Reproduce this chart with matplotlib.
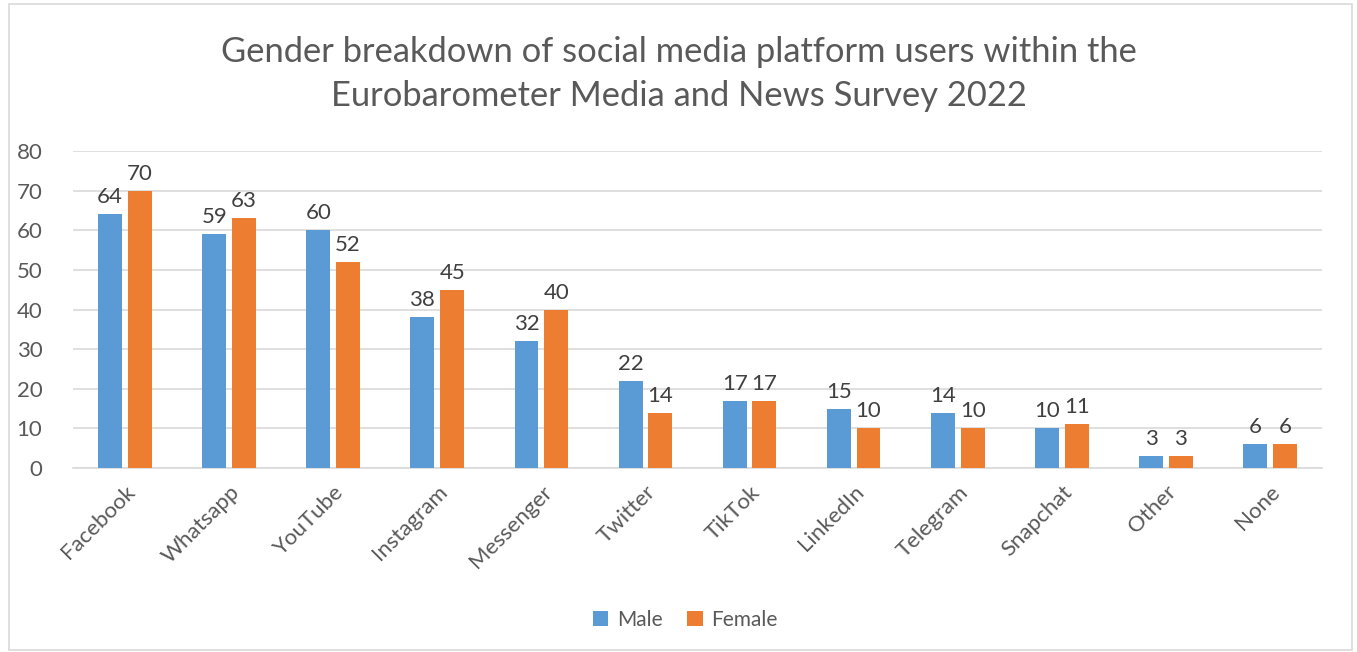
import numpy as np
import matplotlib.pyplot as plt
from matplotlib.patches import Rectangle

# values
platforms = ['Facebook', 'Whatsapp', 'YouTube', 'Instagram', 'Messenger', 'Twitter',
             'TikTok', 'LinkedIn', 'Telegram', 'Snapchat', 'Other', 'None']
male = [64, 59, 60, 38, 32, 22, 17, 15, 14, 10, 3, 6]
female = [70, 63, 52, 45, 40, 14, 17, 10, 10, 11, 3, 6]

blue = '#5B9BD5'
orange = '#ED7D31'
grey_text = '#595959'
grid_col = '#D9D9D9'

plt.rcParams['font.family'] = ['Lato', 'DejaVu Sans']

fig = plt.figure(figsize=(13.57, 6.52), dpi=100)
ax = fig.add_axes([73 / 1357, 1 - 468 / 652, (1322 - 73) / 1357, (468 - 151) / 652])

# chart border
fig.patches.append(Rectangle((9 / 1357, 2 / 652), 1343 / 1357, 646 / 652,
                             transform=fig.transFigure, fill=False,
                             edgecolor=grid_col, linewidth=1.2))

x = np.arange(len(platforms))
w = 0.23
off = 0.143
b1 = ax.bar(x - off, male, w, color=blue, label='Male', zorder=3)
b2 = ax.bar(x + off, female, w, color=orange, label='Female', zorder=3)

ax.bar_label(b1, padding=5, fontsize=16, color='#404040')
ax.bar_label(b2, padding=5, fontsize=16, color='#404040')

ax.set_xlim(-0.5, len(platforms) - 0.5)
ax.set_ylim(0, 80)
ax.set_yticks(range(0, 81, 10))
ax.yaxis.grid(True, color=grid_col, linewidth=1.2, zorder=0)
ax.set_axisbelow(True)
for s in ['top', 'right', 'left']:
    ax.spines[s].set_visible(False)
ax.spines['bottom'].set_color(grid_col)
ax.spines['bottom'].set_linewidth(1.2)
ax.tick_params(axis='both', length=0, labelsize=16, labelcolor=grey_text)
ax.tick_params(axis='y', pad=22)

ax.set_xticks(x)
ax.set_xticklabels(platforms, rotation=45, ha='right', rotation_mode='anchor')
ax.tick_params(axis='x', pad=10)

fig.text(0.5, 0.887, 'Gender breakdown of social media platform users within the\n'
         'Eurobarometer Media and News Survey 2022',
         ha='center', va='center', fontsize=24.8, color=grey_text, linespacing=1.45)

ax.legend(loc='center', bbox_to_anchor=(0.505, 0.049), bbox_transform=fig.transFigure,
          ncol=2, frameon=False, fontsize=15, labelcolor=grey_text,
          handlelength=0.75, handleheight=0.75, handletextpad=0.4, columnspacing=1.2)

fig.savefig('out.png', dpi=100)
